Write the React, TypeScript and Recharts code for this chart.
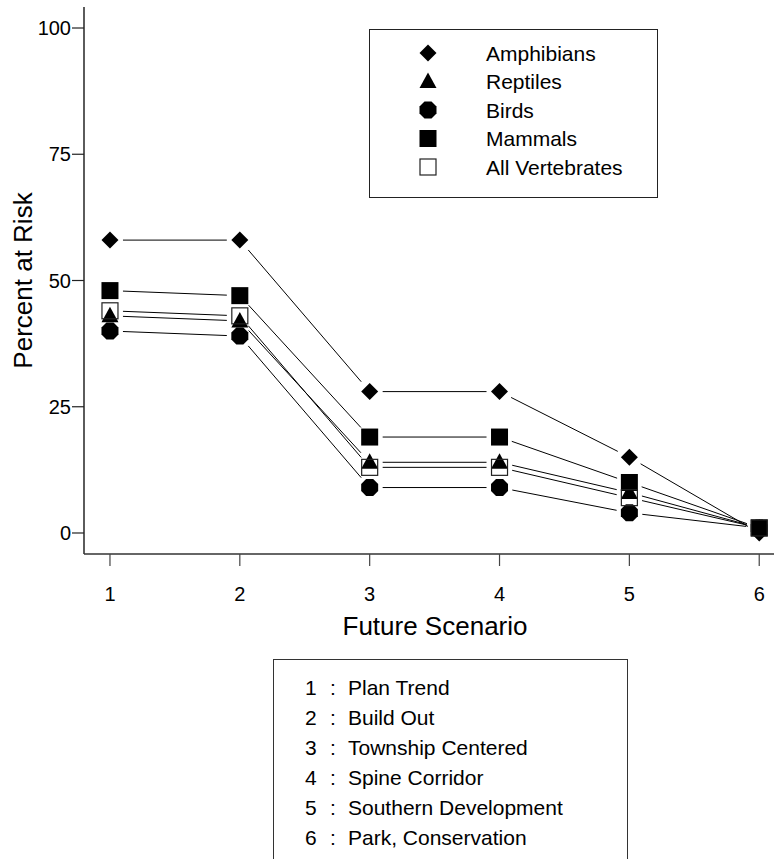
import React from 'react';
import { LineChart, Line, XAxis, YAxis, Legend } from 'recharts';

const scenarios = [1, 2, 3, 4, 5, 6];
const amphibians = [58, 58, 28, 28, 15, 0];
const reptiles = [43, 42, 14, 14, 8, 1];
const birds = [40, 39, 9, 9, 4, 1];
const mammals = [48, 47, 19, 19, 10, 1];
const allVertebrates = [44, 43, 13, 13, 7, 1];

const scenarioNames = [
  'Plan Trend',
  'Build Out',
  'Township Centered',
  'Spine Corridor',
  'Southern Development',
  'Park, Conservation',
];
const yTicks = [0, 25, 50, 75, 100];

const series = [
  { key: 'amphibians', name: 'Amphibians', shape: 'diamond', values: amphibians },
  { key: 'reptiles', name: 'Reptiles', shape: 'triangle', values: reptiles },
  { key: 'birds', name: 'Birds', shape: 'circle', values: birds },
  { key: 'mammals', name: 'Mammals', shape: 'square', values: mammals },
  { key: 'allVertebrates', name: 'All Vertebrates', shape: 'open', values: allVertebrates },
];

const data = scenarios.map((s, i) => {
  const row: Record<string, number> = { scenario: s };
  series.forEach((sr) => (row[sr.key] = sr.values[i]));
  return row;
});

const FONT = '"Liberation Sans", Arial, Helvetica, sans-serif';
const GAP = 13;

// the old device drew small circles as octagons
function octagon(cx: number, cy: number, r: number) {
  const pts: string[] = [];
  for (let k = 0; k < 8; k++) {
    const a = Math.PI / 8 + (k * Math.PI) / 4;
    pts.push(`${cx + r * Math.cos(a)},${cy + r * Math.sin(a)}`);
  }
  return pts.join(' ');
}

function Marker({ shape, cx, cy }: { shape: string; cx: number; cy: number }) {
  switch (shape) {
    case 'diamond':
      return (
        <polygon
          points={`${cx},${cy - 8.5} ${cx + 8.5},${cy} ${cx},${cy + 8.5} ${cx - 8.5},${cy}`}
          fill="#000"
        />
      );
    case 'triangle':
      return (
        <polygon points={`${cx},${cy - 9} ${cx + 8.5},${cy + 6.5} ${cx - 8.5},${cy + 6.5}`} fill="#000" />
      );
    case 'circle':
      return <polygon points={octagon(cx, cy, 9.2)} fill="#000" />;
    case 'square':
      return <rect x={cx - 8.5} y={cy - 8.5} width={17} height={17} fill="#000" />;
    default:
      return (
        <rect x={cx - 8} y={cy - 8} width={16} height={16} fill="none" stroke="#222" strokeWidth={1.2} />
      );
  }
}

// R style "type = b": markers with gapped segments in between
const makeDot = (shape: string) => (props: any) => {
  const { cx, cy, index, points } = props;
  const next = points && points[index + 1];
  let seg = null;
  if (next && cx != null && next.x != null) {
    const dx = next.x - cx;
    const dy = next.y - cy;
    const len = Math.hypot(dx, dy);
    if (len > GAP * 2) {
      const ux = dx / len;
      const uy = dy / len;
      seg = (
        <line
          x1={cx + ux * GAP}
          y1={cy + uy * GAP}
          x2={next.x - ux * GAP}
          y2={next.y - uy * GAP}
          stroke="#000"
          strokeWidth={1}
        />
      );
    }
  }
  return (
    <g key={`${shape}-${index}`}>
      {seg}
      <Marker shape={shape} cx={cx} cy={cy} />
    </g>
  );
};

function SpeciesLegend() {
  return (
    <svg width={289} height={169} style={{ display: 'block' }}>
      <rect x={0.5} y={0.5} width={288} height={168} fill="#fff" stroke="#222" strokeWidth={1} />
      {series.map((s, i) => {
        const y = 24 + i * 28.5;
        return (
          <g key={s.key}>
            <Marker shape={s.shape} cx={59} cy={y} />
            <text x={117} y={y + 7.5} fontSize={21} fontFamily={FONT} fill="#000">
              {s.name}
            </text>
          </g>
        );
      })}
    </svg>
  );
}

export default function App() {
  return (
    <div
      style={{
        position: 'fixed',
        left: 0,
        top: 0,
        width: 774,
        height: 859,
        overflow: 'hidden',
        background: '#fff',
        fontFamily: FONT,
      }}
    >
      <LineChart
        width={800}
        height={859}
        data={data}
        margin={{ top: 7, right: 20, left: 0, bottom: 215 }}
      >
        <XAxis
          xAxisId="top"
          orientation="top"
          dataKey="scenario"
          type="number"
          domain={[0.8, 6.16]}
          allowDataOverflow
          height={0}
          tick={false}
          tickLine={false}
          axisLine={{ stroke: '#222', strokeWidth: 1.3 }}
        />
        <XAxis
          dataKey="scenario"
          type="number"
          domain={[0.8, 6.16]}
          allowDataOverflow
          ticks={scenarios}
          height={90}
          tickSize={12}
          tickMargin={21}
          axisLine={{ stroke: '#333', strokeWidth: 1.6 }}
          tickLine={{ stroke: '#444', strokeWidth: 1.2 }}
          tick={{ fill: '#000', fontSize: 20, fontFamily: FONT }}
          label={{
            value: 'Future Scenario',
            position: 'insideBottom',
            offset: 9,
            dx: 3,
            style: { fill: '#000', fontSize: 26, fontFamily: FONT },
          }}
        />
        <YAxis
          type="number"
          domain={[-4.16, 104.16]}
          allowDataOverflow
          ticks={yTicks}
          width={84}
          tickSize={12}
          tickMargin={1}
          axisLine={{ stroke: '#333', strokeWidth: 1.6 }}
          tickLine={{ stroke: '#222', strokeWidth: 1.2 }}
          tick={{ fill: '#000', fontSize: 20, fontFamily: FONT }}
          label={{
            value: 'Percent at Risk',
            angle: -90,
            position: 'insideLeft',
            offset: 23,
            style: { textAnchor: 'middle', fill: '#000', fontSize: 26, fontFamily: FONT },
          }}
        />
        <Legend
          layout="horizontal"
          verticalAlign="middle"
          align="center"
          width={289}
          height={169}
          wrapperStyle={{ left: 369, top: 29, width: 289, height: 169 }}
          content={() => <SpeciesLegend />}
        />
        {series.map((s) => (
          <Line
            key={s.key}
            dataKey={s.key}
            name={s.name}
            type="linear"
            stroke="none"
            dot={makeDot(s.shape)}
            activeDot={false}
            isAnimationActive={false}
          />
        ))}
      </LineChart>
      <div
        style={{
          position: 'absolute',
          left: 273,
          top: 659,
          width: 355,
          height: 240,
          border: '1px solid #333',
          boxSizing: 'border-box',
          paddingTop: 13,
          fontSize: 21,
          color: '#000',
        }}
      >
        {scenarioNames.map((name, i) => (
          <div key={name} style={{ position: 'relative', height: 30, lineHeight: '30px' }}>
            <span style={{ position: 'absolute', left: 31 }}>{scenarios[i]}</span>
            <span style={{ position: 'absolute', left: 56 }}>:</span>
            <span style={{ position: 'absolute', left: 74 }}>{name}</span>
          </div>
        ))}
      </div>
    </div>
  );
}
